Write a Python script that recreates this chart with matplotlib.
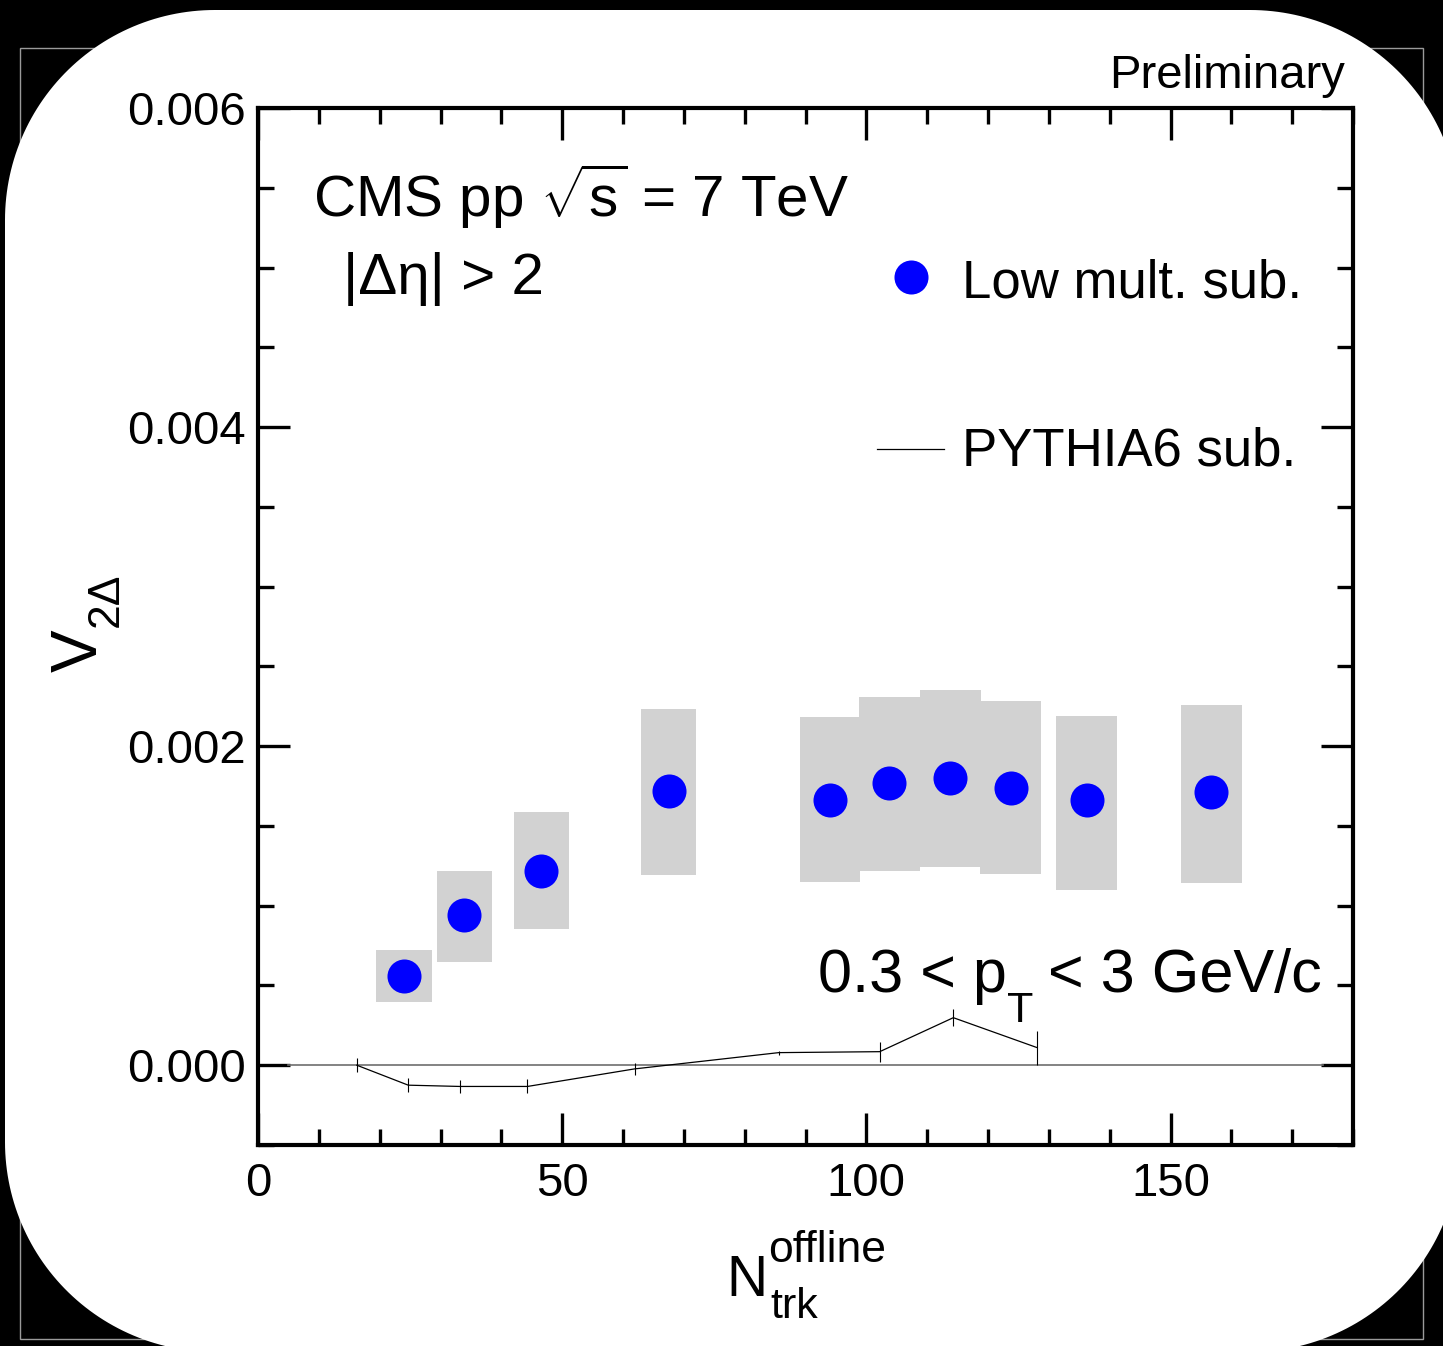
import matplotlib
matplotlib.use("Agg")
import matplotlib.pyplot as plt
import numpy as np
from matplotlib.patches import Rectangle, Polygon
from matplotlib.lines import Line2D
from matplotlib.ticker import MultipleLocator, FormatStrFormatter

plt.rcParams["font.family"] = ["Liberation Sans", "DejaVu Sans"]
plt.rcParams["mathtext.fontset"] = "custom"
plt.rcParams["mathtext.rm"] = "Liberation Sans"
plt.rcParams["mathtext.it"] = "Liberation Sans:italic"
plt.rcParams["mathtext.bf"] = "Liberation Sans:bold"

# CMS data points (low multiplicity subtraction)
n_trk = [24.0, 33.9, 46.6, 67.5, 94.0, 103.8, 113.8, 123.7, 136.2, 156.7]
v2 = [0.00056, 0.00094, 0.00122, 0.00172, 0.00166, 0.00177, 0.00180, 0.00174, 0.00166, 0.00171]
sys_lo = [0.000394, 0.00065, 0.000856, 0.00119, 0.00115, 0.00122, 0.00124, 0.00120, 0.00110, 0.00114]
sys_hi = [0.000725, 0.00122, 0.00159, 0.00223, 0.00218, 0.00231, 0.00235, 0.00228, 0.00219, 0.00226]
box_w = [9.1, 9.1, 9.1, 9.0, 9.9, 10.0, 10.0, 9.9, 10.1, 10.1]

# PYTHIA6 subtraction curve
pythia_x = [16.25, 24.7, 33.2, 44.3, 61.9, 85.6, 102.2, 114.3, 128.1]
pythia_v2 = [0.0, -0.000125, -0.000133, -0.000133, -0.000023, 0.000079, 0.000085, 0.000298, 0.000110]
pythia_err = [0.000044, 0.000044, 0.000038, 0.000044, 0.000038, 0.000013, 0.0000625, 0.000054, 0.000106]

zero_line_x = [5, 175]

W, H = 1443, 1346


def fx(px):
    return px / W


def fy(py):
    return 1 - py / H


def rounded_outline(left, top, right, bottom, rad, n=60):
    pts = []
    corners = [((left + rad, top + rad), 180, 270),
               ((right - rad, top + rad), 270, 360),
               ((right - rad, bottom - rad), 0, 90),
               ((left + rad, bottom - rad), 90, 180)]
    for (cx, cy), a0, a1 in corners:
        ang = np.radians(np.linspace(a0, a1, n))
        for a in ang:
            pts.append((fx(cx + rad * np.cos(a)), fy(cy + rad * np.sin(a))))
    return pts


fig = plt.figure(figsize=(W / 100, H / 100), dpi=100, facecolor="black")

# thin grey frame behind the white slide
frame = Polygon([(fx(20), fy(48)), (fx(1423), fy(48)), (fx(1423), fy(1339)), (fx(20), fy(1339))],
                closed=True, fill=False, edgecolor="#9a9a9a", linewidth=1.0,
                transform=fig.transFigure, zorder=-3)
fig.add_artist(frame)
slide = Polygon(rounded_outline(5, 10, 1460, 1352, 210), closed=True, facecolor="white",
                edgecolor="none", transform=fig.transFigure, zorder=-2)
fig.add_artist(slide)

ax = fig.add_axes([fx(258), fy(1145), fx(1353) - fx(258), fy(108) - fy(1145)])
ax.set_facecolor("white")

# systematic boxes
for x, lo, hi, w in zip(n_trk, sys_lo, sys_hi, box_w):
    ax.add_patch(Rectangle((x - w / 2, lo), w, hi - lo, facecolor="#d2d2d2", edgecolor="none", zorder=1))

ax.plot(zero_line_x, [0, 0], color="#6e6e6e", linewidth=1.2, zorder=2)
ax.errorbar(pythia_x, pythia_v2, yerr=pythia_err, color="black", linewidth=0.9,
            elinewidth=0.8, capsize=0, zorder=3)
ax.plot(n_trk, v2, "o", color="#0000ff", markersize=24.5, markeredgewidth=0, zorder=4)

ax.set_xlim(0, 180)
ax.set_ylim(-0.0005, 0.006)
ax.xaxis.set_major_locator(MultipleLocator(50))
ax.xaxis.set_minor_locator(MultipleLocator(10))
ax.yaxis.set_major_locator(MultipleLocator(0.002))
ax.yaxis.set_minor_locator(MultipleLocator(0.0005))
ax.yaxis.set_major_formatter(FormatStrFormatter("%.3f"))
ax.tick_params(which="both", direction="in", top=True, right=True, width=2.4, colors="black")
ax.tick_params(which="major", length=23)
ax.tick_params(which="minor", length=11.5)
ax.tick_params(axis="y", which="major", labelsize=34, pad=9)
ax.tick_params(axis="x", which="major", labelsize=34, pad=12)
for sp in ax.spines.values():
    sp.set_linewidth(3.0)

# axis titles
fig.text(fx(726), fy(1296), "N", fontsize=41, ha="left", va="baseline")
fig.text(fx(768), fy(1262), "offline", fontsize=32, ha="left", va="baseline")
fig.text(fx(770), fy(1318), "trk", fontsize=31, ha="left", va="baseline")
fig.text(fx(97), fy(672), "V", fontsize=46, rotation=90, rotation_mode="anchor",
         ha="left", va="baseline")
fig.text(fx(118), fy(627), "2\u0394", fontsize=32, rotation=90, rotation_mode="anchor",
         ha="left", va="baseline")

# annotations
fig.text(fx(1345), fy(88), "Preliminary", fontsize=34, ha="right", va="baseline")
fig.text(fx(313), fy(217), r"CMS pp $\sqrt{\mathregular{s}}$ = 7 TeV", fontsize=42,
         ha="left", va="baseline")
fig.text(fx(343), fy(294), "|\u0394\u03b7| > 2", fontsize=42, ha="left", va="baseline")
fig.text(fx(818), fy(992), "0.3 < p", fontsize=44, ha="left", va="baseline")
fig.text(fx(1007), fy(1022), "T", fontsize=31, ha="left", va="baseline")
fig.text(fx(1048), fy(992), "< 3 GeV/c", fontsize=44, ha="left", va="baseline")

# legend
fig.add_artist(Line2D([fx(911)], [fy(277)], marker="o", color="#0000ff", markersize=24.5,
                      markeredgewidth=0, linestyle="none", transform=fig.transFigure))
fig.add_artist(Line2D([fx(877), fx(944)], [fy(449), fy(449)], color="black", linewidth=0.9,
                      transform=fig.transFigure))
fig.text(fx(962), fy(298), "Low mult. sub.", fontsize=38, ha="left", va="baseline")
fig.text(fx(962), fy(465), "PYTHIA6 sub.", fontsize=38, ha="left", va="baseline")

fig.savefig("out.png", dpi=100, facecolor="black")
